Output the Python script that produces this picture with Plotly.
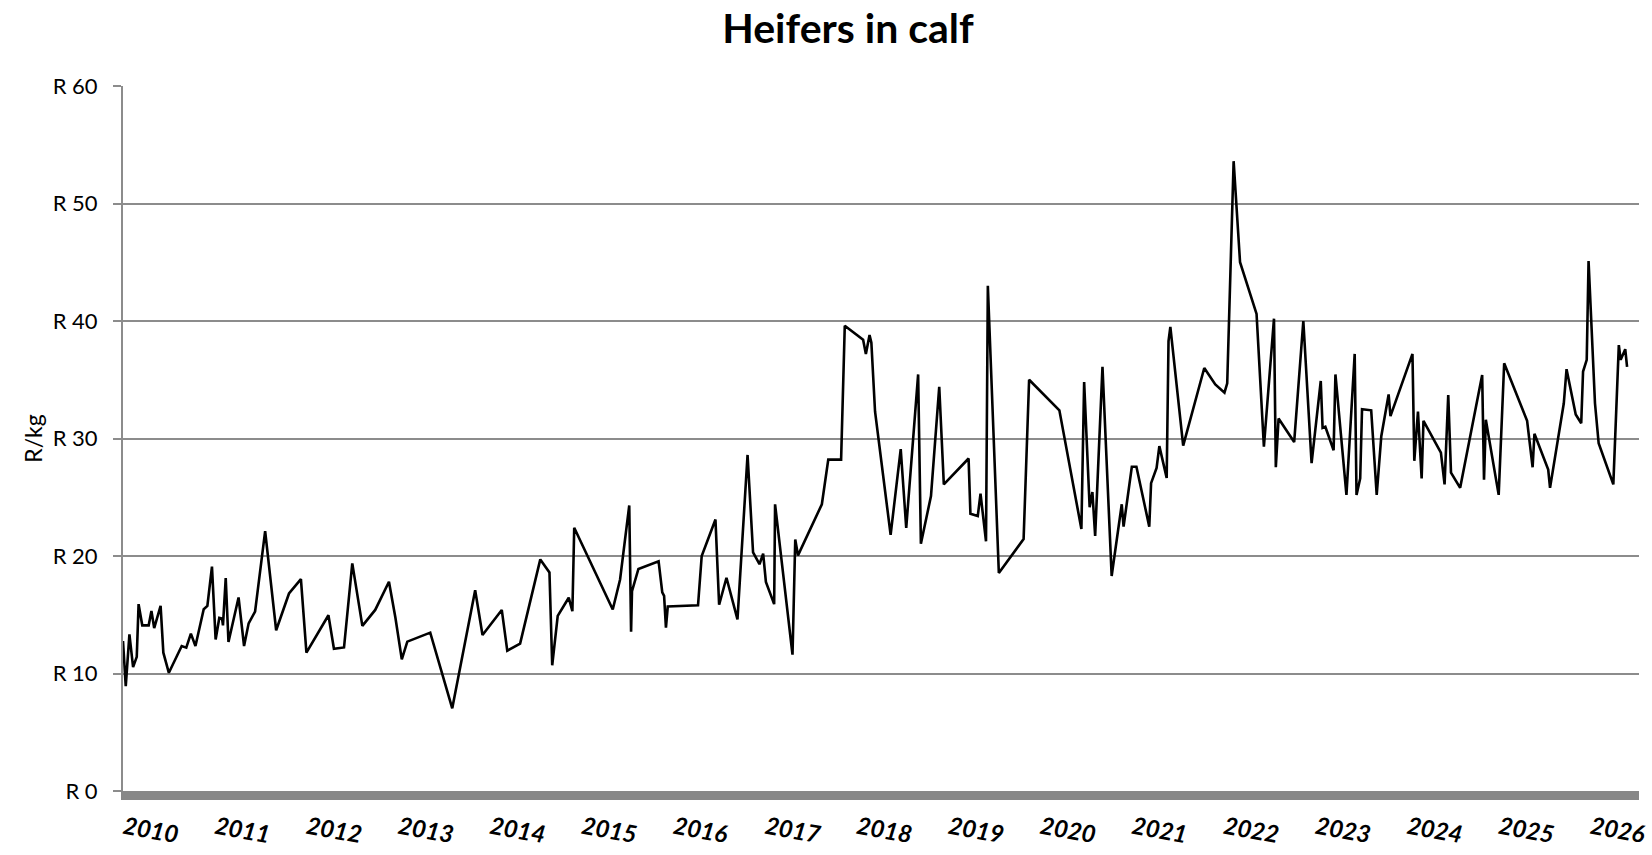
import plotly.graph_objects as go

# decimal-year position of each observation
period = [
    2010.00, 2010.03, 2010.07, 2010.11, 2010.15, 2010.17, 2010.21, 2010.28, 2010.31, 2010.34,
    2010.41, 2010.44, 2010.50, 2010.64, 2010.69, 2010.74, 2010.79, 2010.88, 2010.92, 2010.97,
    2011.01, 2011.05, 2011.08, 2011.09, 2011.12, 2011.15, 2011.26, 2011.32, 2011.37, 2011.44,
    2011.55, 2011.67, 2011.81, 2011.94,
    2012.00, 2012.24, 2012.30, 2012.41, 2012.50, 2012.61, 2012.75, 2012.90, 2012.97,
    2013.04, 2013.10, 2013.35, 2013.59, 2013.84, 2013.92,
    2014.13, 2014.19, 2014.33, 2014.55, 2014.65, 2014.68, 2014.74, 2014.86, 2014.90, 2014.92,
    2015.34, 2015.42, 2015.52, 2015.54, 2015.55, 2015.62, 2015.84, 2015.88, 2015.90, 2015.92, 2015.94,
    2016.27, 2016.31, 2016.46, 2016.50, 2016.58, 2016.70, 2016.81, 2016.87, 2016.94, 2016.98,
    2017.01, 2017.10, 2017.11, 2017.30, 2017.33, 2017.36, 2017.62, 2017.69, 2017.83, 2017.87,
    2018.07, 2018.10, 2018.14, 2018.16, 2018.20, 2018.37, 2018.48, 2018.54, 2018.67, 2018.70,
    2018.81, 2018.90, 2018.95,
    2019.22, 2019.24, 2019.32, 2019.35, 2019.41, 2019.43, 2019.55, 2019.82, 2019.88,
    2020.21, 2020.45, 2020.48, 2020.54, 2020.57, 2020.60, 2020.68, 2020.78, 2020.89, 2020.91,
    2021.00, 2021.05, 2021.19, 2021.21, 2021.27, 2021.30, 2021.38, 2021.40, 2021.42, 2021.56,
    2021.79, 2021.91,
    2022.01, 2022.04, 2022.11, 2022.18, 2022.36, 2022.44, 2022.55, 2022.57, 2022.60, 2022.77,
    2022.87, 2022.96,
    2023.06, 2023.08, 2023.11, 2023.20, 2023.22, 2023.34, 2023.43, 2023.45, 2023.49, 2023.51,
    2023.61, 2023.67, 2023.72, 2023.80, 2023.82,
    2024.06, 2024.08, 2024.12, 2024.16, 2024.18, 2024.37, 2024.41, 2024.45, 2024.48, 2024.58,
    2024.82, 2024.84, 2024.86,
    2025.00, 2025.06, 2025.31, 2025.37, 2025.39, 2025.54, 2025.56, 2025.71, 2025.74, 2025.84,
    2025.90, 2025.92, 2025.96, 2025.98,
    2026.05, 2026.09, 2026.25, 2026.31, 2026.33, 2026.38, 2026.40,
]

# price, R/kg
price = [
    12.76, 8.92, 13.33, 10.54, 11.42, 15.90, 14.10, 14.10, 15.33, 13.87,
    15.75, 11.77, 10.06, 12.34, 12.20, 13.39, 12.34, 15.47, 15.75, 19.09,
    12.90, 14.73, 14.67, 14.10, 18.12, 12.68, 16.47, 12.34, 14.27, 15.27,
    22.11, 13.68, 16.81, 18.03,
    11.77, 14.96, 12.11, 12.22, 19.37, 14.05, 15.41, 17.81, 14.76,
    11.20, 12.71, 13.48, 7.04, 17.09, 13.28,
    15.41, 11.94, 12.54, 19.71, 18.60, 10.70, 14.90, 16.45, 15.30, 22.40,
    15.45, 18.00, 24.30, 13.55, 17.00, 18.90, 19.55, 16.90, 16.60, 13.90, 15.70,
    15.80, 20.00, 23.10, 15.85, 18.15, 14.60, 28.60, 20.30, 19.30, 20.20,
    17.80, 15.90, 24.40, 11.60, 21.40, 20.05, 24.40, 28.20, 28.20, 39.60,
    38.40, 37.20, 38.80, 38.15, 32.30, 21.80, 29.10, 22.40, 35.45, 21.05,
    25.10, 34.40, 26.10,
    28.30, 23.60, 23.40, 25.30, 21.25, 43.00, 18.55, 21.45, 35.00,
    32.40, 22.30, 34.80, 24.15, 25.45, 21.70, 36.10, 18.30, 24.40, 22.50,
    27.60, 27.60, 22.50, 26.20, 27.50, 29.35, 26.65, 38.30, 39.50, 29.40,
    36.00, 34.60,
    33.90, 34.70, 53.60, 45.00, 40.60, 29.30, 40.20, 27.55, 31.70, 29.70,
    40.00, 27.90,
    34.90, 30.90, 31.00, 29.00, 35.45, 25.20, 37.20, 25.20, 26.60, 32.50,
    32.40, 25.20, 30.20, 33.75, 31.90,
    37.20, 28.10, 32.30, 26.60, 31.50, 28.80, 26.10, 33.70, 27.10, 25.80,
    35.40, 26.50, 31.60,
    25.20, 36.40, 31.50, 27.55, 30.40, 27.35, 25.80, 33.00, 35.90, 32.05,
    31.30, 35.70, 36.70, 45.10,
    33.00, 29.60, 26.10, 37.95, 36.70, 37.60, 36.10,
]

year_ticks = list(range(2010, 2027))
year_labels = [str(y) for y in year_ticks]
y_ticks = [0, 10, 20, 30, 40, 50, 60]
y_labels = ["R " + str(v) for v in y_ticks]

FONT = "Lato"
GRID = "#8c8c8c"

W, H = 1652, 855

fig = go.Figure()
fig.add_trace(go.Scatter(
    x=period, y=price, mode="lines",
    line=dict(color="#000000", width=2.6),
    showlegend=False, hoverinfo="x+y",
))

fig.update_layout(
    width=W, height=H,
    paper_bgcolor="white", plot_bgcolor="white",
    margin=dict(l=123, r=13, t=86, b=64),
    font=dict(family=FONT, color="#000000"),
    title=dict(
        text="Heifers in calf", x=848 / W, xanchor="center",
        y=1 - 14 / H, yanchor="top",
        font=dict(family=FONT, size=41, weight="bold", color="#000000"),
    ),
    xaxis=dict(
        range=[2010, 2026.53],
        tickmode="array", tickvals=year_ticks, ticktext=year_labels,
        tickangle=10, ticks="",
        tickfont=dict(family=FONT, size=24, weight="bold", style="italic", color="#000000"),
        showgrid=False, zeroline=False,
        showline=True, linewidth=9, linecolor="#878787",
        ticklabelstandoff=5, ticklabelshift=1,
        automargin=False,
    ),
    yaxis=dict(
        range=[0, 60],
        tickmode="array", tickvals=y_ticks, ticktext=y_labels,
        ticks="outside", ticklen=8, tickwidth=2, tickcolor=GRID,
        tickfont=dict(family=FONT, size=22, color="#000000"),
        showgrid=True, gridcolor=GRID, gridwidth=2,
        zeroline=False,
        showline=True, linewidth=2, linecolor=GRID,
        title=dict(text="R/kg", font=dict(family=FONT, size=23, color="#000000"), standoff=4),
        ticklabelstandoff=11,
        automargin=False,
    ),
)

# remove the browser's default 8px page margin so the figure fills the window exactly
fig.write_html(
    "out.html",
    config={"displayModeBar": False},
    post_script="document.body.style.margin='0';",
)
